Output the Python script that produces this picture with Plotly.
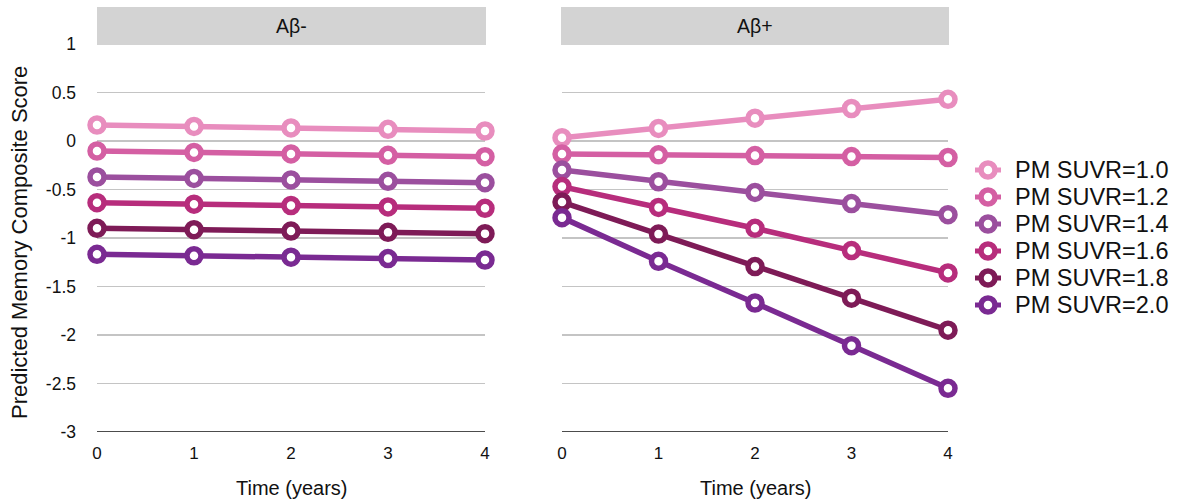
import plotly.graph_objects as go

W, H = 1186, 504

time_years = [0, 1, 2, 3, 4]
series_names = ["PM SUVR=1.0", "PM SUVR=1.2", "PM SUVR=1.4", "PM SUVR=1.6", "PM SUVR=1.8", "PM SUVR=2.0"]
colors = ["#E88DBE", "#D45FA3", "#9B4F9E", "#B72D7C", "#7E1B57", "#7A2A92"]

# Aβ- panel
neg_10 = [0.165, 0.15, 0.135, 0.12, 0.103]
neg_12 = [-0.103, -0.118, -0.133, -0.148, -0.162]
neg_14 = [-0.371, -0.386, -0.401, -0.416, -0.43]
neg_16 = [-0.636, -0.651, -0.665, -0.68, -0.694]
neg_18 = [-0.90, -0.914, -0.928, -0.942, -0.955]
neg_20 = [-1.168, -1.183, -1.198, -1.212, -1.227]

# Aβ+ panel
pos_10 = [0.034, 0.13, 0.235, 0.335, 0.43]
pos_12 = [-0.135, -0.143, -0.15, -0.16, -0.17]
pos_14 = [-0.30, -0.42, -0.53, -0.645, -0.76]
pos_16 = [-0.47, -0.685, -0.90, -1.13, -1.36]
pos_18 = [-0.63, -0.96, -1.295, -1.62, -1.95]
pos_20 = [-0.79, -1.24, -1.67, -2.11, -2.55]

neg_series = [neg_10, neg_12, neg_14, neg_16, neg_18, neg_20]
pos_series = [pos_10, pos_12, pos_14, pos_16, pos_18, pos_20]

panel_titles = ["Aβ-", "Aβ+"]
x_title = "Time (years)"
y_title = "Predicted Memory Composite Score"
y_ticks = [1, 0.5, 0, -0.5, -1, -1.5, -2, -2.5, -3]
y_ticklabels = ["1", "0.5", "0", "-0.5", "-1", "-1.5", "-2", "-2.5", "-3"]

fig = go.Figure()

for i, name in enumerate(series_names):
    for panel, data in ((1, neg_series[i]), (2, pos_series[i])):
        fig.add_trace(go.Scatter(
            x=time_years, y=data, name=name,
            mode="lines+markers",
            line=dict(color=colors[i], width=5.5),
            marker=dict(symbol="circle", size=14, color="white",
                        line=dict(color=colors[i], width=5.5)),
            xaxis="x" if panel == 1 else "x2",
            yaxis="y" if panel == 1 else "y2",
            showlegend=False,
            cliponaxis=False,
        ))


def px_x(p):
    return p / W


def px_y(p):
    return 1 - p / H


xd1 = [px_x(97), px_x(485)]
xd2 = [px_x(562), px_x(948)]
yd = [px_y(432), px_y(44)]

font = "Liberation Sans, Arial, Helvetica, sans-serif"
TXT = "#111111"

common_x = dict(range=[0, 4], tickvals=time_years, ticktext=[str(t) for t in time_years],
                showgrid=False, zeroline=False, showline=False, ticks="",
                tickfont=dict(size=17, color=TXT), ticklabelstandoff=9,
                automargin=False, fixedrange=True)
common_y = dict(range=[-3, 1], tickvals=y_ticks, ticktext=y_ticklabels,
                showgrid=True, gridcolor="#C4C4C4", gridwidth=1.5,
                zeroline=False, showline=False, ticks="", automargin=False,
                fixedrange=True)

fig.update_layout(
    width=W, height=H,
    margin=dict(l=0, r=0, t=0, b=0, autoexpand=False),
    paper_bgcolor="white", plot_bgcolor="white",
    font=dict(family=font, color=TXT),
    xaxis=dict(domain=xd1, anchor="y", **common_x),
    xaxis2=dict(domain=xd2, anchor="y2", **common_x),
    yaxis=dict(domain=yd, anchor="x", showticklabels=True,
               tickfont=dict(size=17.5, color=TXT), ticklabelstandoff=20,
               **common_y),
    yaxis2=dict(domain=yd, anchor="x2", showticklabels=False, **common_y),
    showlegend=False,
    hovermode=False,
)

# bottom axis lines at -3
for xr, yr in (("x", "y"), ("x2", "y2")):
    fig.add_shape(type="line", xref=xr, yref=yr, x0=0, x1=4, y0=-3, y1=-3,
                  line=dict(color=TXT, width=1.5), layer="above")

# axis titles
for xa, xb in ((97, 485), (562, 948)):
    fig.add_annotation(xref="paper", yref="paper", x=px_x((xa + xb) / 2), y=px_y(488),
                       text=x_title, showarrow=False, font=dict(size=20, color=TXT),
                       xanchor="center", yanchor="middle")
fig.add_annotation(xref="paper", yref="paper", x=px_x(19), y=px_y(243),
                   text=y_title, showarrow=False, textangle=-90,
                   font=dict(size=22, color=TXT), xanchor="center", yanchor="middle")

# strip headers
strips = [(97, 486), (561, 949)]
for (a, b), title in zip(strips, panel_titles):
    fig.add_shape(type="rect", xref="paper", yref="paper",
                  x0=px_x(a), x1=px_x(b), y0=px_y(45), y1=px_y(7),
                  fillcolor="#D3D3D3", line=dict(width=0), layer="above")
    fig.add_annotation(xref="paper", yref="paper", x=px_x((a + b) / 2), y=px_y(26),
                       text=title, showarrow=False, font=dict(size=19.5, color=TXT),
                       xanchor="center", yanchor="middle")

# legend (drawn manually to match compact spacing)
leg_y0, leg_dy = 170, 27
for i, name in enumerate(series_names):
    yc = leg_y0 + leg_dy * i
    fig.add_shape(type="line", xref="paper", yref="paper",
                  x0=px_x(975), x1=px_x(1001), y0=px_y(yc), y1=px_y(yc),
                  line=dict(color=colors[i], width=5))
    r = 7
    fig.add_shape(type="circle", xref="paper", yref="paper",
                  x0=px_x(988 - r), x1=px_x(988 + r), y0=px_y(yc + r), y1=px_y(yc - r),
                  fillcolor="white", line=dict(color=colors[i], width=5.5))
    fig.add_annotation(xref="paper", yref="paper", x=px_x(1013), y=px_y(yc),
                       text=name, showarrow=False, font=dict(size=23.5, color=TXT),
                       xanchor="left", yanchor="middle")

fig.write_html("out.html", config={"displayModeBar": False, "staticPlot": True},
               post_script="document.body.style.margin='0';")
